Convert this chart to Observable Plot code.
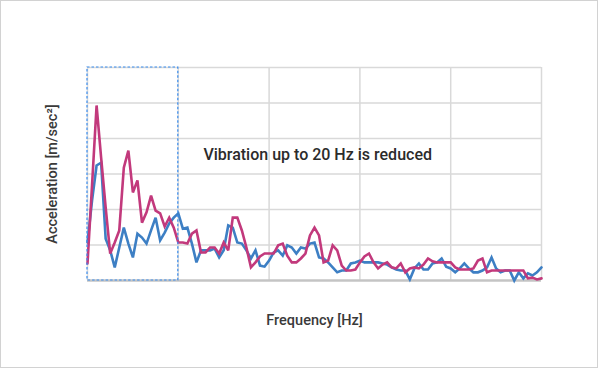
<!DOCTYPE html>
<html>
<head>
<meta charset="utf-8">
<script src="https://cdn.jsdelivr.net/npm/d3@7"></script>
<script src="https://cdn.jsdelivr.net/npm/@observablehq/plot@0.6"></script>
<style>
  html, body { margin: 0; padding: 0; background: #fff; }
  #wrap { position: relative; width: 598px; height: 368px; overflow: hidden; }
  #wrap svg { display: block; }
  #border { position: absolute; left: 0; top: 0; width: 598px; height: 368px; box-sizing: border-box; border: 1px solid #d2d2d2; pointer-events: none; }
</style>
</head>
<body>
<div id="wrap"><div id="border"></div></div>
<script>
// Frequency step between samples (Hz)
const freqStep = 1;
// Acceleration before (blue) and after (magenta), one value per Hz, 0..100 Hz
const blueValues = [1.07,2.25,3.24,3.32,1.18,0.85,0.37,0.93,1.49,1.04,
  0.65,1.32,1.21,1.04,1.41,1.77,1.13,1.35,1.61,1.77,
  1.89,1.46,1.49,1.04,0.51,0.85,0.85,0.85,0.90,0.65,
  0.85,1.55,1.49,1.07,1.04,0.85,0.62,0.85,0.42,0.39,
  0.56,0.79,0.85,0.70,0.99,0.93,0.76,0.93,0.90,1.04,
  1.07,0.65,0.62,0.51,0.37,0.23,0.28,0.28,0.48,0.51,
  0.56,0.51,0.51,0.51,0.51,0.48,0.45,0.37,0.31,0.28,
  0.28,0.03,0.34,0.48,0.31,0.31,0.48,0.51,0.62,0.39,
  0.34,0.23,0.34,0.48,0.34,0.23,0.23,0.28,0.37,0.65,
  0.34,0.23,0.28,0.28,0.00,0.23,0.06,0.20,0.14,0.23,0.37];
const magentaValues = [0.48,2.68,4.93,3.46,2.06,0.76,1.07,1.41,3.18,3.66,
  2.48,2.82,1.63,1.92,2.39,1.97,1.89,1.52,1.77,1.49,
  1.07,1.07,1.04,1.32,1.41,0.79,0.79,0.93,0.93,0.76,
  1.07,0.85,1.77,1.77,1.41,0.93,0.37,0.51,0.68,0.76,
  0.76,0.76,0.99,1.04,0.70,0.51,0.51,0.62,0.76,1.27,
  1.49,1.27,0.51,0.56,0.99,0.85,0.42,0.28,0.28,0.31,
  0.51,0.68,0.76,0.51,0.34,0.45,0.51,0.37,0.34,0.48,
  0.23,0.34,0.37,0.34,0.45,0.62,0.54,0.51,0.51,0.51,
  0.51,0.37,0.31,0.31,0.31,0.34,0.56,0.62,0.23,0.28,
  0.28,0.28,0.28,0.28,0.28,0.28,0.28,0.06,0.08,0.03,0.06];
const xTicks = [0, 20, 40, 60, 80, 100];
const yTicks = [0, 1, 2, 3, 4, 5, 6];
const highlightRange = [0, 20];
const annotationText = ["Vibration up to 20 Hz is reduced"];
const annotationPos = [50.7, 3.55];
const xTitle = "Frequency [Hz]";
const yTitle = "Acceleration [m/sec²]";

const blueData = blueValues.map((v, i) => ({f: i * freqStep, v}));
const magentaData = magentaValues.map((v, i) => ({f: i * freqStep, v}));

const font = "Roboto, 'Open Sans', sans-serif";

const chart = Plot.plot({
  width: 598,
  height: 368,
  marginLeft: 87,
  marginRight: 57,
  marginTop: 67,
  marginBottom: 88,
  style: {fontFamily: font, background: "transparent"},
  x: {domain: [0, 100], axis: null},
  y: {domain: [0, 6], axis: null},
  marks: [
    Plot.ruleX(xTicks, {stroke: "#d9d9d9", strokeWidth: 1.5}),
    Plot.ruleY(yTicks.filter(d => d > 0), {stroke: "#d9d9d9", strokeWidth: 1.5}),
    Plot.ruleY([0], {stroke: "#c4c4c4", strokeWidth: 2.5}),
    Plot.line(blueData, {x: "f", y: "v", stroke: "#3d7fc4", strokeWidth: 2.6, strokeLinejoin: "miter", strokeMiterlimit: 3}),
    Plot.line(magentaData, {x: "f", y: "v", stroke: "#c2397c", strokeWidth: 2.6, strokeLinejoin: "miter", strokeMiterlimit: 3}),
    Plot.rect([highlightRange], {x1: d => d[0], x2: d => d[1], y1: 0, y2: 6, fill: "none", stroke: "#3b8ef0", strokeWidth: 1.2, strokeDasharray: "2.5,2"}),
    Plot.text(annotationText, {x: annotationPos[0], y: annotationPos[1], text: d => d, fontSize: 16, fontWeight: 500, fill: "#2b2b2b"}),
    Plot.text([xTitle], {frameAnchor: "bottom", textAnchor: "middle", lineAnchor: "middle", dy: 40, text: d => d, fontSize: 14.5, fontWeight: 500, fill: "#3a3a3a"}),
    Plot.text([yTitle], {frameAnchor: "left", textAnchor: "middle", lineAnchor: "middle", dx: -35, rotate: -90, text: d => d, fontSize: 14.5, fontWeight: 500, fill: "#3a3a3a"})
  ]
});
document.getElementById("wrap").prepend(chart);
</script>
</body>
</html>
